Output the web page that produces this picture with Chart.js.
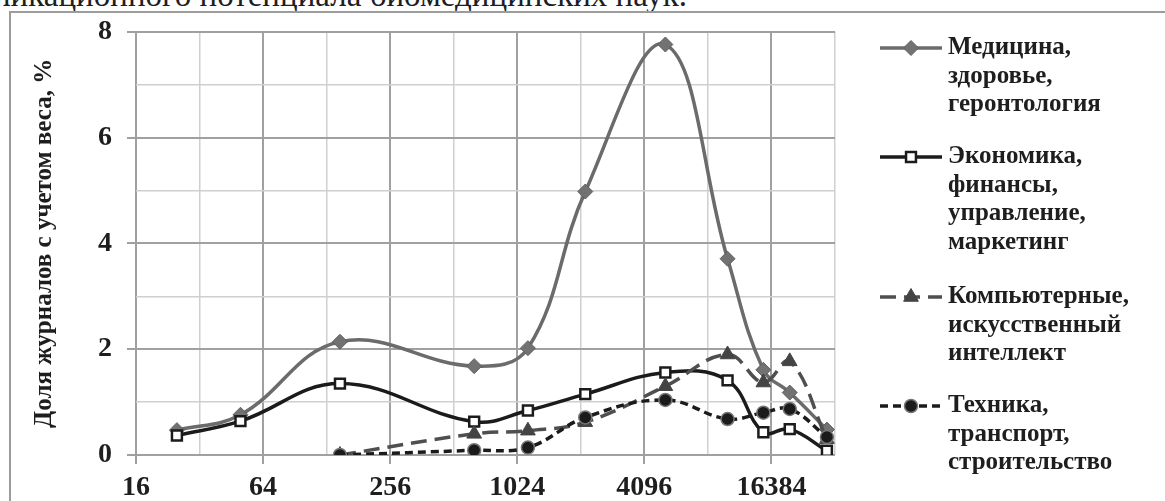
<!DOCTYPE html>
<html>
<head>
<meta charset="utf-8">
<script src="https://cdn.jsdelivr.net/npm/chart.js"></script>
<style>
    html, body { margin: 0; padding: 0; background: #fff; overflow: hidden; }
    body { width: 1165px; height: 501px; position: relative; }
    #caption {
        position: absolute; right: 478px; top: -21px;
        font: 33px 'Liberation Serif', serif; line-height: 33px;
        white-space: nowrap; color: #1e1e1e;
    }
    #frame {
        position: absolute; left: 9px; top: 11px; width: 1300px; height: 700px;
        border-left: 2px solid #9c9c9c; border-top: 2px solid #9c9c9c;
    }
    #wrap { position: absolute; left: 0; top: 0; width: 1165px; height: 501px; }
</style>
</head>
<body>
<div id="caption">публикационного потенциала биомедицинских наук.</div>
<div id="frame"></div>
<div id="wrap"><canvas id="chart" width="1165" height="501"></canvas></div>
<script>
// journal size (x, log2 axis) and weighted share of journals, %
const sizes = [25, 50, 148, 640, 1150, 2150, 5150, 10150, 15000, 20000, 30000];
const medicine = [0.47, 0.76, 2.14, 1.68, 2.02, 4.98, 7.76, 3.71, 1.61, 1.18, 0.48];
const economics = [0.37, 0.64, 1.35, 0.63, 0.84, 1.15, 1.56, 1.41, 0.43, 0.49, 0.08];
const computers = [null, null, 0, 0.40, 0.46, 0.62, 1.30, 1.90, 1.37, 1.77, 0.30];
const technics = [null, null, 0, 0.09, 0.14, 0.71, 1.04, 0.68, 0.80, 0.87, 0.34];

const xTickLabels = [16, 64, 256, 1024, 4096, 16384];
const yTickLabels = [0, 2, 4, 6, 8];

const legendLabels = [
    ['Медицина,', 'здоровье,', 'геронтология'],
    ['Экономика,', 'финансы,', 'управление,', 'маркетинг'],
    ['Компьютерные,', 'искусственный', 'интеллект'],
    ['Техника,', 'транспорт,', 'строительство']
];
const legendRows = [48, 157, 297, 406];

const serif = "'Liberation Serif', 'Times New Roman', serif";
const textColor = '#1e1e1e';

const toPoints = (values) => sizes.map((s, i) => ({ x: Math.log2(s), y: values[i] }));

const isMajor = (ctx) => ctx.tick && Math.round(ctx.tick.value) % 2 === 0;

const sideLegend = {
    id: 'sideLegend',
    afterDraw(chart) {
        const ctx = chart.ctx;
        const x0 = 880, x1 = 942, textX = 948, lineGap = 28.5;
        chart.data.datasets.forEach((ds, i) => {
            const y = legendRows[i];
            ctx.save();
            ctx.strokeStyle = ds.borderColor;
            ctx.lineWidth = ds.borderWidth;
            ctx.setLineDash(ds.borderDash || []);
            ctx.beginPath();
            ctx.moveTo(x0, y);
            ctx.lineTo(x1, y);
            ctx.stroke();
            ctx.setLineDash([]);
            ctx.fillStyle = ds.pointBackgroundColor;
            ctx.strokeStyle = ds.pointBorderColor;
            ctx.lineWidth = ds.pointBorderWidth;
            Chart.helpers.drawPoint(ctx, {
                pointStyle: ds.pointStyle,
                radius: ds.pointRadius,
                rotation: 0,
                borderWidth: ds.pointBorderWidth
            }, (x0 + x1) / 2, y);
            ctx.fillStyle = textColor;
            ctx.font = 'bold 25px ' + serif;
            ctx.textBaseline = 'middle';
            ctx.textAlign = 'left';
            legendLabels[i].forEach((line, k) => ctx.fillText(line, textX, y + k * lineGap));
            ctx.restore();
        });
    }
};

const ctx = document.getElementById('chart').getContext('2d');
new Chart(ctx, {
    type: 'line',
    data: {
        datasets: [
            {
                label: legendLabels[0].join(' '),
                data: toPoints(medicine),
                borderColor: '#6b6b6b',
                borderWidth: 3.5,
                pointStyle: 'rectRot',
                pointRadius: 7.5,
                pointBackgroundColor: '#727272',
                pointBorderColor: '#5f5f5f',
                pointBorderWidth: 1,
                tension: 0.4,
                order: 4
            },
            {
                label: legendLabels[1].join(' '),
                data: toPoints(economics),
                borderColor: '#1b1b1b',
                borderWidth: 3.5,
                pointStyle: 'rect',
                pointRadius: 7,
                pointBackgroundColor: '#ffffff',
                pointBorderColor: '#1b1b1b',
                pointBorderWidth: 2.5,
                tension: 0.4,
                order: 3
            },
            {
                label: legendLabels[2].join(' '),
                data: toPoints(computers),
                borderColor: '#4f4f4f',
                borderWidth: 3.5,
                borderDash: [16, 8],
                pointStyle: 'triangle',
                pointRadius: 8.5,
                pointBackgroundColor: '#444444',
                pointBorderColor: '#444444',
                pointBorderWidth: 1,
                tension: 0.4,
                order: 2
            },
            {
                label: legendLabels[3].join(' '),
                data: toPoints(technics),
                borderColor: '#1b1b1b',
                borderWidth: 3.5,
                borderDash: [8, 5],
                pointStyle: 'circle',
                pointRadius: 6.5,
                pointBackgroundColor: '#1b1b1b',
                pointBorderColor: '#777777',
                pointBorderWidth: 1.5,
                tension: 0.4,
                order: 1
            }
        ]
    },
    options: {
        responsive: false,
        animation: false,
        layout: { padding: { left: 20, top: 27, right: 330, bottom: 0 } },
        plugins: {
            legend: { display: false },
            title: { display: false },
            tooltip: { enabled: false }
        },
        scales: {
            x: {
                type: 'linear',
                min: 4,
                max: 15,
                afterFit: (scale) => { scale.height = 46; },
                border: { display: false },
                grid: {
                    color: (c) => isMajor(c) ? '#a0a0a0' : '#cfcfcf',
                    lineWidth: (c) => isMajor(c) ? 2 : 1.5,
                    tickColor: (c) => isMajor(c) ? '#a0a0a0' : 'rgba(0,0,0,0)',
                    tickLength: 9
                },
                ticks: {
                    stepSize: 1,
                    autoSkip: false,
                    maxRotation: 0,
                    padding: 7,
                    color: textColor,
                    font: { family: serif, size: 28, weight: 'bold' },
                    callback: (v) => xTickLabels.includes(Math.pow(2, v)) ? String(Math.pow(2, v)) : ''
                }
            },
            y: {
                min: 0,
                max: 8,
                afterFit: (scale) => { scale.width = 116; },
                border: { display: false },
                grid: {
                    color: (c) => isMajor(c) ? '#a0a0a0' : '#cfcfcf',
                    lineWidth: (c) => isMajor(c) ? 2 : 1.5,
                    tickColor: (c) => isMajor(c) ? '#a0a0a0' : 'rgba(0,0,0,0)',
                    tickLength: 9
                },
                ticks: {
                    stepSize: 1,
                    padding: 15,
                    color: textColor,
                    font: { family: serif, size: 28, weight: 'bold' },
                    callback: (v) => yTickLabels.includes(v) ? v : ''
                },
                title: {
                    display: true,
                    text: 'Доля журналов с учетом веса, %',
                    color: textColor,
                    font: { family: serif, size: 25, weight: 'bold' },
                    padding: { top: 10, bottom: 0 }
                }
            }
        }
    },
    plugins: [sideLegend]
});
</script>
</body>
</html>
